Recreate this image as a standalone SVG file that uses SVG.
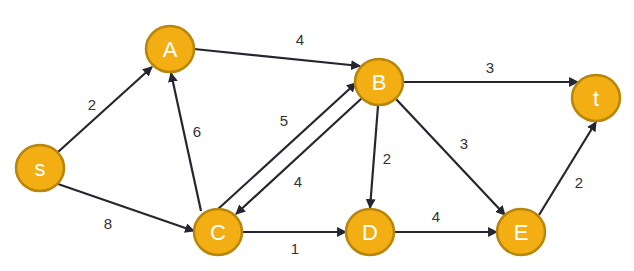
<svg xmlns="http://www.w3.org/2000/svg" width="634" height="271" viewBox="0 0 634 271">
<style>
.n ellipse{fill:#F2AE12;stroke:#B8860B;stroke-width:2.5}
.n text{fill:#fff;font-family:"Liberation Sans",Arial,sans-serif;font-size:22px;text-anchor:middle;dominant-baseline:central}
.e line{stroke:#262633;stroke-width:2.2;marker-end:url(#ah)}
.l text{fill:#333;font-family:"Liberation Sans",Arial,sans-serif;font-size:15px;text-anchor:middle;dominant-baseline:central}
</style>
<defs>
<marker id="ah" viewBox="0 0 10 10" refX="9" refY="5" markerWidth="4.5" markerHeight="4.5" orient="auto" markerUnits="strokeWidth">
<path d="M0,0 L10,5 L0,10 z" fill="#262633"/>
</marker>
</defs>
<g class="e" id="connectors">
<line x1="58" y1="152" x2="152" y2="67"/>
<line x1="194" y1="49" x2="360" y2="66"/>
<line x1="403" y1="82" x2="578" y2="82"/>
<line x1="201" y1="211" x2="171" y2="73"/>
<line x1="217" y1="210" x2="356" y2="83"/>
<line x1="362" y1="98" x2="236" y2="214"/>
<line x1="58" y1="184" x2="194" y2="231"/>
<line x1="242" y1="232" x2="346" y2="232"/>
<line x1="378" y1="106" x2="370" y2="208"/>
<line x1="396" y1="99" x2="505" y2="215"/>
<line x1="394" y1="232" x2="497" y2="232"/>
<line x1="539" y1="215" x2="596" y2="122"/>
</g>
<g class="l" id="labels">
<text x="300" y="39">4</text>
<text x="490" y="67">3</text>
<text x="92" y="104">2</text>
<text x="197" y="131">6</text>
<text x="284" y="120">5</text>
<text x="298" y="181">4</text>
<text x="108" y="223">8</text>
<text x="295" y="248">1</text>
<text x="387" y="158">2</text>
<text x="464" y="143">3</text>
<text x="436" y="216">4</text>
<text x="579" y="182">2</text>
</g>
<g class="n" id="node-A"><ellipse cx="170" cy="49" rx="24" ry="23"/><text x="170" y="49">A</text></g>
<g class="n" id="node-B"><ellipse cx="379" cy="82" rx="24" ry="23"/><text x="379" y="82">B</text></g>
<g class="n" id="node-t"><ellipse cx="596" cy="98" rx="24" ry="23"/><text x="596" y="98">t</text></g>
<g class="n" id="node-s"><ellipse cx="40" cy="168" rx="24" ry="23"/><text x="40" y="168">s</text></g>
<g class="n" id="node-C"><ellipse cx="218" cy="232" rx="24" ry="23"/><text x="218" y="232">C</text></g>
<g class="n" id="node-D"><ellipse cx="370" cy="232" rx="24" ry="23"/><text x="370" y="232">D</text></g>
<g class="n" id="node-E"><ellipse cx="521" cy="232" rx="24" ry="23"/><text x="521" y="232">E</text></g>
</svg>
